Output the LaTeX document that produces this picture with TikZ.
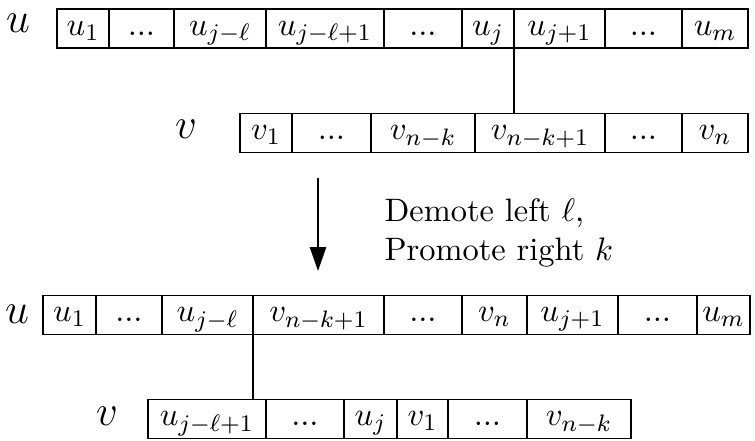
\documentclass[tikz,border=0pt]{standalone}
\usetikzlibrary{arrows.meta}
\tikzset{
  cell/.style={draw, line width=0.45pt, outer sep=0pt, inner sep=0pt, anchor=west,
    minimum height=39*0.336pt, text height=1.5ex, text depth=.45ex},
  cellw/.style={minimum width=#1*0.336pt},
  lbl/.style={font=\fontsize{15.5}{18}\selectfont, anchor=base, inner sep=0pt},
  link/.style={line width=0.7pt}
}
\begin{document}
\begin{tikzpicture}[x=0.336pt,y=-0.336pt,font=\fontsize{10.9}{13.2}\selectfont]
\useasboundingbox (0,0) rectangle (755,440);
% vorher: u
\node[lbl] (ulab) at (18,32) {$u$};
\node[cell,cellw=52] (u1) at (57,28.5) {$u_1$};
\node[cell,cellw=65] (ud1) at (109,28.5) {$...$};
\node[cell,cellw=92] (ujl) at (174,28.5) {$u_{j-\ell}$};
\node[cell,cellw=118] (ujl1) at (266,28.5) {$u_{j-\ell+1}$};
\node[cell,cellw=78] (ud2) at (384,28.5) {$...$};
\node[cell,cellw=52] (uj) at (462,28.5) {$u_j$};
\node[cell,cellw=91] (uj1) at (514,28.5) {$u_{j+1}$};
\node[cell,cellw=77] (ud3) at (605,28.5) {$...$};
\node[cell,cellw=66] (um) at (682,28.5) {$u_m$};
% vorher: v
\node[lbl] (vlab) at (186,138) {$v$};
\node[cell,cellw=52] (v1) at (240,133) {$v_1$};
\node[cell,cellw=79] (vd1) at (292,133) {$...$};
\node[cell,cellw=104] (vnk) at (371,133) {$v_{n-k}$};
\node[cell,cellw=130] (vnk1) at (475,133) {$v_{n-k+1}$};
\node[cell,cellw=77] (vd2) at (605,133) {$...$};
\node[cell,cellw=66] (vn) at (682,133) {$v_n$};
\draw[link] (uj.south east) -- (uj.south east |- vnk1.north);
% pfeil
\coordinate (arrs) at (318,178);
\coordinate (arre) at (318,271);
\draw[link,-{Triangle[length=8pt,width=5.4pt]}] (arrs) -- (arre);
\node[anchor=west,align=left,inner sep=0pt] (op) at (384,233) {Demote left $\ell$,\\Promote right $k$};
% nachher: u
\node[lbl] (nulab) at (17,323) {$u$};
\node[cell,cellw=53] (nu1) at (43,315) {$u_1$};
\node[cell,cellw=66] (nud1) at (96,315) {$...$};
\node[cell,cellw=91] (nujl) at (162,315) {$u_{j-\ell}$};
\node[cell,cellw=131] (nvnk1) at (253,315) {$v_{n-k+1}$};
\node[cell,cellw=78] (nud2) at (384,315) {$...$};
\node[cell,cellw=65] (nvn) at (462,315) {$v_n$};
\node[cell,cellw=91] (nuj1) at (527,315) {$u_{j+1}$};
\node[cell,cellw=79] (nud3) at (618,315) {$...$};
\node[cell,cellw=53] (num) at (697,315) {$u_m$};
% nachher: v
\node[lbl] (nvlab) at (107,425) {$v$};
\node[cell,cellw=118] (nujl1) at (148,419) {$u_{j-\ell+1}$};
\node[cell,cellw=78] (nvd1) at (266,419) {$...$};
\node[cell,cellw=53] (nuj) at (344,419) {$u_j$};
\node[cell,cellw=51] (nv1) at (397,419) {$v_1$};
\node[cell,cellw=79] (nvd2) at (448,419) {$...$};
\node[cell,cellw=104] (nvnk) at (527,419) {$v_{n-k}$};
\draw[link] (nujl.south east) -- (nujl.south east |- nujl1.north);
\end{tikzpicture}
\end{document}
